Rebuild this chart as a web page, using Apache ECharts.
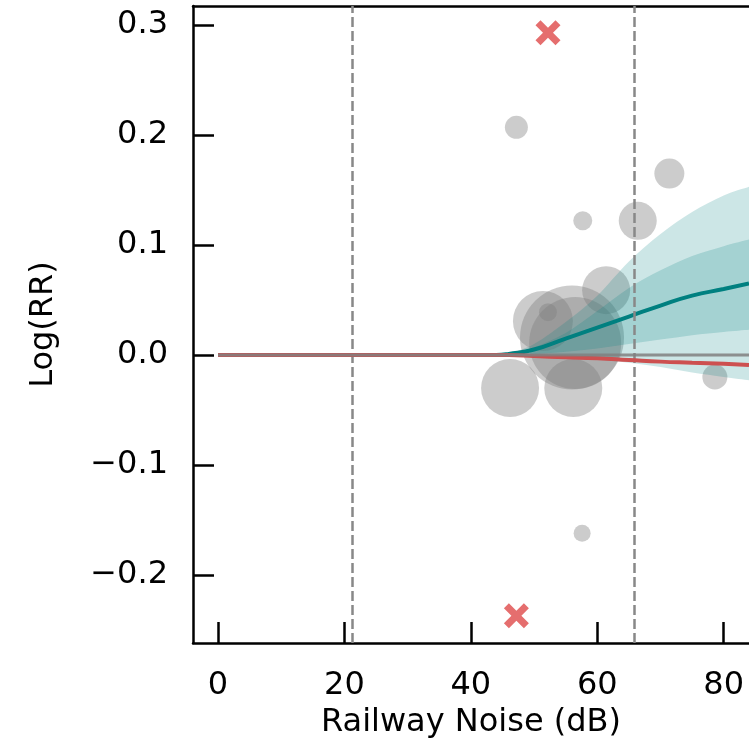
<!DOCTYPE html>
<html lang="en">
<head>
<meta charset="UTF-8">
<script src="https://cdn.jsdelivr.net/npm/echarts@6/dist/echarts.min.js"></script>
<title>Log(RR) vs Railway Noise</title>
<style>
    html, body { margin: 0; padding: 0; background: #fff; }
    #chart { width: 749px; height: 756px; }
</style>
</head>
<body>
<div id="chart"></div>
<script>
// ticks
const xTicks = [0, 20, 40, 60, 80];
const yTicks = [-0.2, -0.1, 0.0, 0.1, 0.2, 0.3];

// thresholds (dashed vertical lines)
const thresholds = [21.3, 65.9];

// studies: noise level, log(RR), bubble diameter (weight)
const studyX = [47.2, 71.4, 57.7, 66.4, 61.4, 51.4, 52.2, 56.0, 56.5, 46.2, 56.2, 78.6, 57.6];
const studyY = [0.207, 0.165, 0.122, 0.122, 0.059, 0.031, 0.039, 0.016, 0.011, -0.030, -0.030, -0.020, -0.162];
const studyW = [23, 30, 19, 38, 48, 60, 18, 104, 92, 58, 58, 25, 17];

// outliers (excluded)
const outX = [52.2, 47.2];
const outY = [0.293, -0.237];

// fitted curves
const curveX = [0, 44, 46, 50, 55, 60, 65, 70, 75, 80, 84];
const tealFit = [0, 0, 0.001, 0.005, 0.015, 0.025, 0.035, 0.045, 0.054, 0.060, 0.065];
const redFit = [0, 0, 0, -0.001, -0.002, -0.003, -0.0045, -0.006, -0.007, -0.008, -0.009];

// uncertainty bands
const bandX = [46, 50, 55, 60, 65, 70, 75, 80, 84];
const outerLow = [0, -0.001, -0.002, -0.004, -0.007, -0.011, -0.016, -0.020, -0.023];
const outerHigh = [0.001, 0.010, 0.030, 0.054, 0.085, 0.110, 0.130, 0.145, 0.153];
const innerLow = [0, 0.001, 0.003, 0.006, 0.010, 0.014, 0.018, 0.021, 0.023];
const innerHigh = [0.001, 0.007, 0.020, 0.040, 0.061, 0.077, 0.090, 0.099, 0.105];

const pair = (xs, ys) => xs.map((x, i) => [x, ys[i]]);
const fmt = v => (v < 0 ? '\u2212' : '') + Math.abs(v).toFixed(1);

const font = 'DejaVu Sans';
const chart = echarts.init(document.getElementById('chart'));

// catmull-rom segments through pixel points
function curveTo(pts) {
    let d = '';
    for (let i = 0; i < pts.length - 1; i++) {
        const p0 = pts[i - 1] || pts[i], p1 = pts[i], p2 = pts[i + 1], p3 = pts[i + 2] || p2;
        const c1 = [p1[0] + (p2[0] - p0[0]) / 6, p1[1] + (p2[1] - p0[1]) / 6];
        const c2 = [p2[0] - (p3[0] - p1[0]) / 6, p2[1] - (p3[1] - p1[1]) / 6];
        d += ' C' + c1.join(',') + ' ' + c2.join(',') + ' ' + p2.join(',');
    }
    return d;
}

// band drawn once as a closed path: upper edge, then lower edge back
function bandSeries(name, xs, lo, hi) {
    return {
        name: name, type: 'custom', z: 3, clip: true, silent: true,
        data: xs.map((x, i) => [x, lo[i], hi[i]]),
        renderItem: function (params, api) {
            if (params.dataIndex !== 0) return null;
            const top = xs.map((x, i) => api.coord([x, hi[i]]));
            const bot = xs.map((x, i) => api.coord([x, lo[i]])).reverse();
            const d = 'M' + top[0].join(',') + curveTo(top) +
                ' L' + bot[0].join(',') + curveTo(bot) + ' Z';
            return {
                type: 'path',
                shape: { pathData: d },
                style: { fill: 'rgba(0,128,128,0.2)', stroke: null }
            };
        }
    };
}

chart.setOption({
    animation: false,
    grid: { left: 193, top: 6, right: 0, bottom: 113 },
    xAxis: [
        {
            type: 'value', min: -3.96, max: 84.0,
            name: 'Railway Noise (dB)', nameLocation: 'middle', nameGap: 48,
            nameTextStyle: { fontFamily: font, fontSize: 32, color: '#000' },
            axisLine: { onZero: false, lineStyle: { color: '#000', width: 2.5 } },
            axisTick: { inside: true, length: 21, customValues: xTicks, lineStyle: { color: '#000', width: 2.5 } },
            axisLabel: { customValues: xTicks, fontFamily: font, fontSize: 32, color: '#000', margin: 27 },
            splitLine: { show: false }
        },
        {
            type: 'value', position: 'top', min: -3.96, max: 84.0,
            axisLine: { show: true, onZero: false, lineStyle: { color: '#000', width: 2.5 } },
            axisTick: { show: false }, axisLabel: { show: false }, splitLine: { show: false }
        }
    ],
    yAxis: {
        type: 'value', min: -0.2618, max: 0.3173,
        name: 'Log(RR)', nameLocation: 'middle', nameGap: 133,
        nameTextStyle: { fontFamily: font, fontSize: 32, color: '#000' },
        axisLine: { show: true, onZero: false, lineStyle: { color: '#000', width: 2.5 } },
        axisTick: { inside: true, length: 21, customValues: yTicks, lineStyle: { color: '#000', width: 2.5 } },
        axisLabel: { customValues: yTicks, formatter: fmt, fontFamily: font, fontSize: 32, color: '#000', margin: 25 },
        splitLine: { show: false }
    },
    series: [
        {
            name: 'Studies', type: 'scatter', z: 2,
            data: studyX.map((x, i) => [x, studyY[i], studyW[i]]),
            symbolSize: d => d[2],
            itemStyle: { color: 'rgba(128,128,128,0.5)' }
        },
        bandSeries('Outer', bandX, outerLow, outerHigh),
        bandSeries('Inner', bandX, innerLow, innerHigh),
        {
            name: 'Teal fit', type: 'line', data: pair(curveX, tealFit), z: 4,
            symbol: 'none', smooth: true,
            lineStyle: { color: '#008080', width: 4 }
        },
        {
            name: 'Red fit', type: 'line', data: pair(curveX, redFit), z: 5,
            symbol: 'none', smooth: true,
            lineStyle: { color: '#cd5050', width: 4 }
        },
        {
            name: 'Zero', type: 'line', data: [[0, 0], [84, 0]], z: 6,
            symbol: 'none',
            lineStyle: { color: '#808080', width: 3, opacity: 0.85 },
            markLine: {
                silent: true, symbol: 'none', label: { show: false },
                lineStyle: { color: '#888888', type: [10, 4], width: 2.5 },
                data: thresholds.map(t => ({ xAxis: t }))
            }
        },
        {
            name: 'Excluded', type: 'scatter', z: 7,
            data: pair(outX, outY),
            symbol: 'path://M0,2 L2,0 L5,3 L8,0 L10,2 L7,5 L10,8 L8,10 L5,7 L2,10 L0,8 L3,5 Z',
            symbolSize: 25,
            itemStyle: { color: '#e05555', opacity: 0.85 }
        }
    ]
});
</script>
</body>
</html>
